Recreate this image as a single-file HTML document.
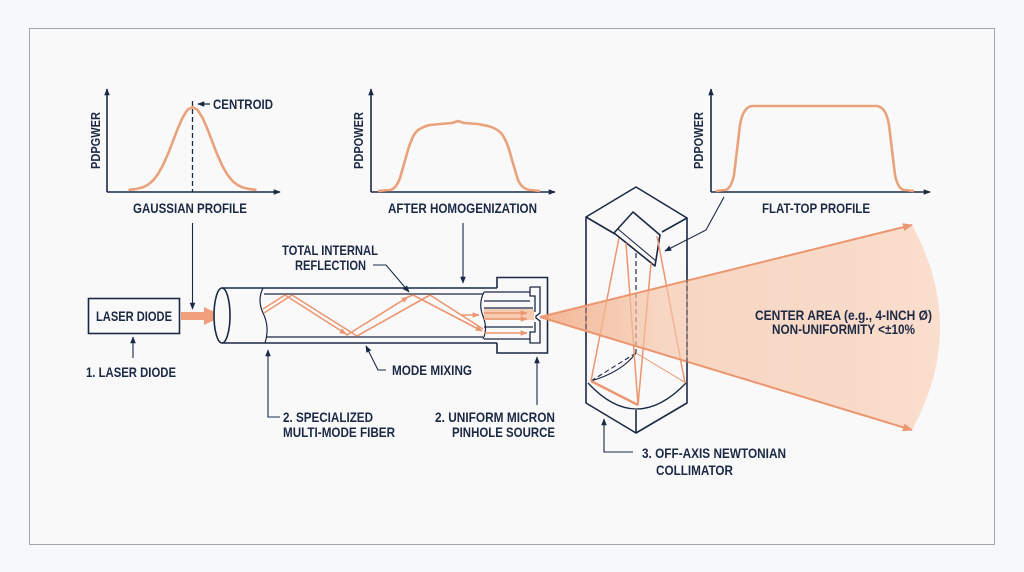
<!DOCTYPE html>
<html><head><meta charset="utf-8"><style>
html,body{margin:0;padding:0;background:#f7f8f9;}
svg{display:block;}
text{font-family:"Liberation Sans Narrow","Liberation Sans",sans-serif;font-weight:bold;fill:#1b2944;font-size:14px;}
</style></head><body>
<svg width="1024" height="572" viewBox="0 0 1024 572" xmlns="http://www.w3.org/2000/svg">
<defs>
<marker id="na" viewBox="0 0 10 10" refX="9" refY="5" markerWidth="7" markerHeight="7" orient="auto-start-reverse" markerUnits="userSpaceOnUse"><path d="M0,1 L10,5 L0,9 z" fill="#1b2944"/></marker>
<marker id="oa" viewBox="0 0 10 10" refX="9" refY="5" markerWidth="10" markerHeight="10" orient="auto" markerUnits="userSpaceOnUse"><path d="M0,1 L10,5 L0,9 z" fill="#ec9670"/></marker>
<marker id="oas" viewBox="0 0 10 10" refX="9" refY="5" markerWidth="7" markerHeight="7" orient="auto" markerUnits="userSpaceOnUse"><path d="M0,1 L10,5 L0,9 z" fill="#ec9670"/></marker>
<linearGradient id="bg" x1="540" y1="0" x2="940" y2="0" gradientUnits="userSpaceOnUse">
<stop offset="0" stop-color="#f2a880" stop-opacity="0.85"/>
<stop offset="0.3" stop-color="#f6c3a5" stop-opacity="0.65"/>
<stop offset="1" stop-color="#fad9c6" stop-opacity="0.85"/>
</linearGradient>
</defs>
<rect x="0" y="0" width="1024" height="572" fill="#f7f8f9"/>
<rect x="29.5" y="28.5" width="965" height="516" fill="#f9f9fa" stroke="#a3a8b0" stroke-width="1"/>

<g stroke="#1b2944" stroke-width="1.6" fill="none">
<line x1="107" y1="192" x2="107" y2="89" marker-end="url(#na)"/>
<line x1="107" y1="192" x2="280" y2="192" marker-end="url(#na)"/>
<line x1="371" y1="192" x2="371" y2="89" marker-end="url(#na)"/>
<line x1="371" y1="192" x2="555" y2="192" marker-end="url(#na)"/>
<line x1="711" y1="192" x2="711" y2="89" marker-end="url(#na)"/>
<line x1="711" y1="192" x2="930" y2="192" marker-end="url(#na)"/>
</g>
<line x1="192.5" y1="101" x2="192.5" y2="192" stroke="#1b2944" stroke-width="1.3" stroke-dasharray="5,3"/>
<line x1="210" y1="104" x2="198" y2="104" stroke="#1b2944" stroke-width="1.3" marker-end="url(#na)"/>

<g stroke="#e9a27c" stroke-width="2.6" fill="none" stroke-linejoin="round">
<polyline points="128.5,189.9 135.5,189.1 142.5,187.4 147.5,185 152.5,181 157.5,174.8 162.5,166.1 167.5,155.1 172.5,142.3 177.5,129.2 182.5,117.7 187.5,109.8 192.5,107 197.5,109.8 202.5,117.7 207.5,129.2 212.5,142.3 217.5,155.1 222.5,166.1 227.5,174.8 232.5,181 237.5,185 242.5,187.4 249.5,189.1 256.5,189.9"/>
<path d="M378,191 L390,190 Q396,189 400,178 L406,157 Q411,138 416,132 Q421,127 430,125 L440,124 L452,123 L458,121 L464,123 L478,124 L488,126 Q496,128 501,133 Q507,140 512,160 L518,180 Q522,189 530,190 L540,191"/>
<path d="M716,191 L725,190 Q731,189 734,175 L740,125 Q743,107 752,106 L877,106 Q886,107 889,125 L895,175 Q898,189 904,190 L914,191"/>
</g>

<text x="213" y="109" textLength="60" lengthAdjust="spacingAndGlyphs">CENTROID</text>
<text x="133" y="213" textLength="114" lengthAdjust="spacingAndGlyphs">GAUSSIAN PROFILE</text>
<text x="388" y="213" textLength="149" lengthAdjust="spacingAndGlyphs">AFTER HOMOGENIZATION</text>
<text x="762" y="213" textLength="108" lengthAdjust="spacingAndGlyphs">FLAT-TOP PROFILE</text>
<text transform="translate(100,169) rotate(-90)" x="0" y="0" textLength="57" lengthAdjust="spacingAndGlyphs" style="font-size:12.5px">PDPGWER</text>
<text transform="translate(363,169) rotate(-90)" x="0" y="0" textLength="57" lengthAdjust="spacingAndGlyphs" style="font-size:12.5px">PDPOWER</text>
<text transform="translate(703,169) rotate(-90)" x="0" y="0" textLength="57" lengthAdjust="spacingAndGlyphs" style="font-size:12.5px">PDPOWER</text>

<g stroke="#1b2944" stroke-width="1.1" fill="none">
<line x1="192.5" y1="223" x2="192.5" y2="309" marker-end="url(#na)"/>
<line x1="463" y1="223" x2="463" y2="283" marker-end="url(#na)"/>
<polyline points="724,197 706,230 665,251" marker-end="url(#na)"/>
<line x1="133" y1="358" x2="133" y2="337" marker-end="url(#na)"/>
<polyline points="280,417 268,417 268,350" marker-end="url(#na)"/>
<polyline points="386,370 378,370 366,346" marker-end="url(#na)"/>
<polyline points="373,265 386,265 409,292" marker-end="url(#na)"/>
<line x1="537" y1="405" x2="537" y2="357" marker-end="url(#na)"/>
<polyline points="633,452 604,452 604,419" marker-end="url(#na)"/>
</g>

<rect x="88.5" y="298.5" width="91" height="35" fill="#f9f9fa" stroke="#1b2944" stroke-width="1.6"/>
<text x="96" y="321" textLength="76" lengthAdjust="spacingAndGlyphs">LASER DIODE</text>
<text x="86" y="377" textLength="90" lengthAdjust="spacingAndGlyphs">1. LASER DIODE</text>
<path d="M181,312 L204,312 L204,307 L223,316 L204,325 L204,320 L181,320 z" fill="#f0a07a"/>

<g stroke="#1b2944" stroke-width="1.6" fill="none">
<line x1="222" y1="288" x2="497" y2="288"/>
<line x1="222" y1="343" x2="497" y2="343"/>
<ellipse cx="222" cy="315.5" rx="8" ry="27.5" fill="#f9f9fa"/>
<line x1="264" y1="294" x2="483" y2="294" stroke-width="1.3"/>
<line x1="266" y1="337" x2="483" y2="337" stroke-width="1.3"/>
<path d="M263,288 Q257,300 263,313 Q270,327 265,343" stroke-width="1.2"/>
<path d="M497,288 L497,277.5 L547.5,277.5 L547.5,353 L497,353 L497,343"/>
<path d="M484,292 Q478,304 483,316 Q488,329 483,339" stroke-width="1.2"/>
</g>
<rect x="484" y="309" width="50" height="11" fill="#f6cbb2"/>
<g stroke="#1b2944" stroke-width="1.3" fill="none">
<line x1="484" y1="292" x2="530" y2="292"/>
<line x1="484" y1="301" x2="530" y2="301"/>
<line x1="484" y1="308" x2="533" y2="308"/>
<line x1="484" y1="327" x2="533" y2="327"/>
<line x1="484" y1="339" x2="530" y2="339"/>
<path d="M530,287 L540,287 L540,313 L536,316 L536,318 L540,321 L540,343 L530,343 L530,332 L535,332 L535,322 M530,287 L530,296 L535,296 L535,312"/>
</g>
<g stroke="#ec9670" stroke-width="1.6" fill="none" stroke-linejoin="round">
<polyline points="263,309 285,295 346,334" marker-end="url(#oas)"/>
<polyline points="346,334 347,335 408,297" marker-end="url(#oas)"/>
<polyline points="408,297 413,295 482,331" marker-end="url(#oas)"/>
<polyline points="264,313 292,295 357,336 430,295 483,329"/>
<line x1="462" y1="315" x2="479" y2="315" marker-end="url(#oas)"/>
<line x1="484" y1="313" x2="527" y2="313" marker-end="url(#oas)"/>
<line x1="484" y1="319" x2="527" y2="319" marker-end="url(#oas)"/>
<line x1="484" y1="333" x2="527" y2="333" marker-end="url(#oas)"/>
</g>
<text x="282" y="255" textLength="96" lengthAdjust="spacingAndGlyphs">TOTAL INTERNAL</text>
<text x="295" y="270" textLength="71" lengthAdjust="spacingAndGlyphs">REFLECTION</text>
<text x="392" y="375" textLength="80" lengthAdjust="spacingAndGlyphs">MODE MIXING</text>
<text x="283" y="422" textLength="90" lengthAdjust="spacingAndGlyphs">2. SPECIALIZED</text>
<text x="283" y="437" textLength="112" lengthAdjust="spacingAndGlyphs">MULTI-MODE FIBER</text>
<text x="435" y="422" textLength="120" lengthAdjust="spacingAndGlyphs">2. UNIFORM MICRON</text>
<text x="452" y="437" textLength="103" lengthAdjust="spacingAndGlyphs">PINHOLE SOURCE</text>

<g stroke="#1b2944" stroke-width="1.6" fill="none" stroke-linejoin="round">
<polygon points="636,187 687,218 687,403 636,433 586,403 586,217"/>
<line x1="586" y1="217" x2="615" y2="234"/>
<line x1="687" y1="218" x2="662" y2="232"/>
<line x1="636" y1="253" x2="636" y2="353" stroke-width="1.2" stroke-dasharray="5,3"/>
<line x1="591" y1="381" x2="636" y2="353" stroke-width="1.1" stroke-dasharray="5,3"/>
<path d="M591,381 Q622,372 636,353" stroke-width="1.1"/>
<path d="M588,383 Q636,435 686,383" stroke-width="1.3"/>
<line x1="636" y1="410" x2="636" y2="433"/>
<polygon points="633,212 660,235 655,266 614,233" fill="#f9f9fa"/>
<line x1="618" y1="229" x2="656" y2="261" stroke-width="1.1"/>
</g>
<g stroke="#ec9670" stroke-width="1.5" fill="none">
<line x1="619" y1="238" x2="591" y2="381"/>
<line x1="626" y1="243" x2="638" y2="405"/>
<line x1="651" y1="263" x2="638" y2="405"/>
<line x1="657" y1="236" x2="685" y2="383"/>
<line x1="591" y1="381" x2="638" y2="405" stroke-width="2.4"/>
<line x1="636" y1="353" x2="686" y2="383" stroke-width="1"/>
</g>

<path d="M540,317 L912,225 Q968,327 912,430 Z" fill="url(#bg)"/>
<line x1="540" y1="317" x2="912" y2="225" stroke="#ec9670" stroke-width="2" marker-end="url(#oa)"/>
<line x1="540" y1="317" x2="912" y2="430" stroke="#ec9670" stroke-width="2" marker-end="url(#oa)"/>
<g stroke="#1b2944" stroke-width="1.2" fill="none" stroke-dasharray="5,3" opacity="0.6">
<line x1="586" y1="300" x2="586" y2="340"/>
<line x1="687" y1="270" x2="687" y2="365"/>
</g>
<text x="755" y="320" textLength="177" lengthAdjust="spacingAndGlyphs">CENTER AREA (e.g., 4-INCH Ø)</text>
<text x="772" y="334" textLength="143" lengthAdjust="spacingAndGlyphs">NON-UNIFORMITY &lt;±10%</text>
<text x="642" y="458" textLength="144" lengthAdjust="spacingAndGlyphs">3. OFF-AXIS NEWTONIAN</text>
<text x="656" y="475" textLength="77" lengthAdjust="spacingAndGlyphs">COLLIMATOR</text>
</svg>
</body></html>
